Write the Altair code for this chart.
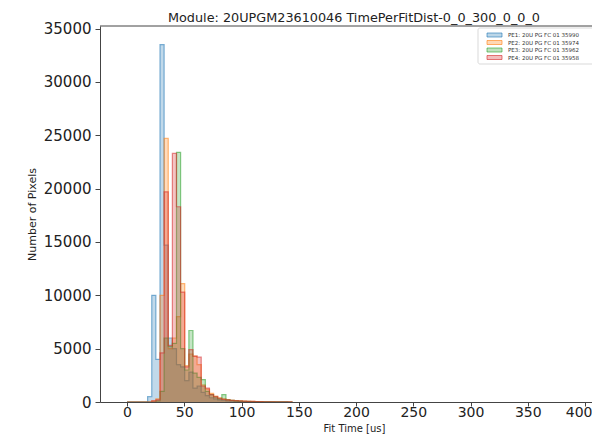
import altair as alt
import pandas as pd

# ---------------- data ----------------
bin_edges = [0.0, 3.6, 7.2, 10.8, 14.4, 18.0, 21.6, 25.2, 28.8, 32.4,
             36.0, 39.6, 43.2, 46.8, 50.4, 54.0, 57.6, 61.2, 64.8, 68.4,
             72.0, 75.6, 79.2, 82.8, 86.4, 90.0, 93.6, 97.2, 100.8, 104.4,
             108.0, 111.6, 115.2, 118.8, 122.4, 126.0, 129.6, 133.2, 136.8, 140.4,
             144.0]

pe1_counts = [0, 0, 0, 0, 0, 500, 10000, 4000, 33500, 14700,
              6000, 5000, 3500, 3300, 2000, 2800, 1300, 1500, 900, 600,
              400, 300, 200, 150, 100, 80, 60, 50, 40, 30,
              25, 20, 15, 10, 10, 8, 5, 5, 3, 2]
pe2_counts = [0, 0, 0, 0, 0, 0, 100, 300, 10000, 24700,
              5000, 6000, 8000, 11100, 3400, 4500, 4300, 3500, 1600, 1200,
              800, 550, 400, 300, 220, 160, 130, 100, 80, 60,
              50, 40, 30, 25, 20, 15, 10, 8, 5, 3]
pe3_counts = [0, 0, 0, 0, 0, 0, 0, 100, 1000, 6000,
              5200, 5500, 23400, 5000, 3000, 6700, 2700, 2300, 2100, 1000,
              700, 450, 300, 700, 200, 150, 110, 90, 70, 50,
              40, 30, 25, 20, 15, 10, 8, 5, 3, 2]
pe4_counts = [0, 0, 0, 0, 0, 0, 100, 200, 4600, 19700,
              5300, 23300, 18300, 10300, 3300, 4900, 4300, 4200, 1500, 1300,
              700, 500, 350, 250, 200, 150, 120, 100, 80, 60,
              50, 40, 30, 25, 20, 15, 10, 8, 5, 3]

series_names = ["PE1: 20U PG FC 01 35990", "PE2: 20U PG FC 01 35974",
                "PE3: 20U PG FC 01 35962", "PE4: 20U PG FC 01 35958"]
series_colors = ["#1f77b4", "#ff7f0e", "#2ca02c", "#d62728"]
all_counts = [pe1_counts, pe2_counts, pe3_counts, pe4_counts]

x_ticks = [0, 50, 100, 150, 200, 250, 300, 350, 400]
y_ticks = [0, 5000, 10000, 15000, 20000, 25000, 30000, 35000]

title_text = "Module: 20UPGM23610046 TimePerFitDist-0_0_300_0_0_0"

# ---------------- chart ----------------
PW, PH = 492, 376
xscale = alt.Scale(domain=[-23.6, 406.1], nice=False, zero=False)
yscale = alt.Scale(domain=[0, 35240], nice=False)

x_axis = alt.Axis(values=x_ticks, title="Fit Time [us]", grid=False,
                  labelFontSize=14, titleFontSize=10, titleFontWeight="normal",
                  tickSize=4, labelPadding=-1, titleX=254, titleY=26.5,
                  titleBaseline="middle", zindex=1,
                  labelAlign=alt.ExprRef(expr="datum.value == 400 ? 'right' : 'center'"),
                  labelOffset=alt.ExprRef(expr="datum.value == 400 ? 7 : 0"))
y_axis = alt.Axis(values=y_ticks, title="Number of Pixels", grid=False,
                  labelFontSize=15, titleFontSize=11, titleFontWeight="normal",
                  tickSize=5, labelPadding=4, titleX=-68, titleY=188,
                  titleBaseline="middle", zindex=1, format="d")

layers = []
for i, (name, col, counts) in enumerate(zip(series_names, series_colors, all_counts)):
    df = pd.DataFrame({
        "x": bin_edges,
        "count": counts + [0],
        "series": name,
    })
    enc_x = alt.X("x:Q", scale=xscale, axis=x_axis)
    enc_y = alt.Y("count:Q", scale=yscale, axis=y_axis)
    area = alt.Chart(df).mark_area(interpolate="step-after", color=col,
                                   opacity=0.28).encode(x=enc_x, y=enc_y)
    line = alt.Chart(df).mark_line(interpolate="step-after", color=col,
                                   opacity=0.55, strokeWidth=1.2).encode(x=enc_x, y=enc_y)
    layers += [area, line]

# top frame line (right spine lies beyond the visible window in the reference)
top_frame = alt.Chart(pd.DataFrame({"a": [0]})).mark_rule(
    color="#444444", strokeWidth=1).encode(
    x=alt.value(0), x2=alt.value(PW), y=alt.value(0))
layers.append(top_frame)

# legend (drawn in plot pixel space)
leg_box = alt.Chart(pd.DataFrame({"a": [0]})).mark_rect(
    fill="white", stroke="#cccccc", strokeWidth=0.8, cornerRadius=2, opacity=0.9
).encode(x=alt.value(378), x2=alt.value(PW + 5), y=alt.value(2), y2=alt.value(38))
layers.append(leg_box)
row_y = [9, 16.5, 24, 31.5]
for name, col, ry in zip(series_names, series_colors, row_y):
    d = pd.DataFrame({"label": [name]})
    patch = alt.Chart(d).mark_rect(fill=col, fillOpacity=0.3, stroke=col,
                                   strokeOpacity=0.6, strokeWidth=1).encode(
        x=alt.value(387), x2=alt.value(402), y=alt.value(ry - 2), y2=alt.value(ry + 2))
    txt = alt.Chart(d).mark_text(align="left", baseline="middle", fontSize=5.5,
                                 color="#333333", font="DejaVu Sans").encode(
        x=alt.value(408), y=alt.value(ry), text="label:N")
    layers += [patch, txt]

chart = alt.layer(*layers).properties(
    width=PW, height=PH,
    autosize=alt.AutoSizeParams(type="none"),
    padding={"left": 92, "top": 18, "right": 0, "bottom": 32},
    title=alt.TitleParams(title_text, fontSize=12.8, fontWeight="normal",
                          anchor="middle", dx=8, offset=-3, color="#222222",
                          font="DejaVu Sans"),
).configure_view(stroke=None).configure_axis(
    labelFont="DejaVu Sans", titleFont="DejaVu Sans", labelColor="#222222",
    titleColor="#222222", domainColor="#444444", tickColor="#444444"
)

chart.save("out.html", embed_options={"renderer": "svg", "actions": False})
